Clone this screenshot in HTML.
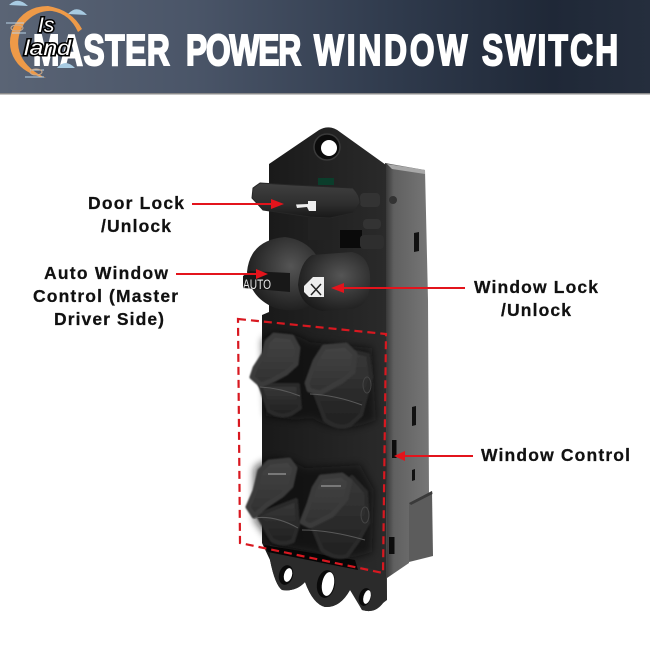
<!DOCTYPE html>
<html><head><meta charset="utf-8"><style>
html,body{margin:0;padding:0;background:#fff;width:650px;height:650px;overflow:hidden}
svg{display:block}
text{font-family:"Liberation Sans",Arial,sans-serif}
.l{font-size:17.5px;font-weight:700;fill:#111;stroke:#111;stroke-width:.25}
.t{font-size:44px;font-weight:700;fill:#fff;stroke:#fff;stroke-width:2}
</style></head><body>
<svg width="650" height="650" viewBox="0 0 650 650" xmlns="http://www.w3.org/2000/svg">
<defs>
<linearGradient id="hd" x1="0" y1="0" x2="1" y2="0"><stop offset="0" stop-color="#5a6475"/><stop offset=".3" stop-color="#4a5568"/><stop offset=".6" stop-color="#303b4d"/><stop offset=".85" stop-color="#1f2837"/><stop offset="1" stop-color="#252e3d"/></linearGradient>
<linearGradient id="side" x1="0" y1="0" x2="1" y2="0"><stop offset="0" stop-color="#333"/><stop offset=".2" stop-color="#606060"/><stop offset="1" stop-color="#767676"/></linearGradient>
<linearGradient id="face" x1="0" y1="0" x2="1" y2="0"><stop offset="0" stop-color="#191919"/><stop offset="1" stop-color="#2a2a2a"/></linearGradient>
<linearGradient id="btn" x1="0" y1="0" x2="0" y2="1"><stop offset="0" stop-color="#404040"/><stop offset=".6" stop-color="#2e2e2e"/><stop offset="1" stop-color="#181818"/></linearGradient>
<radialGradient id="knob" cx=".6" cy=".4" r=".7"><stop offset="0" stop-color="#555"/><stop offset=".6" stop-color="#303030"/><stop offset="1" stop-color="#181818"/></radialGradient>
<linearGradient id="cap" x1="0" y1="0" x2="0" y2="1"><stop offset="0" stop-color="#444"/><stop offset="1" stop-color="#303030"/></linearGradient>
<linearGradient id="low" x1="0" y1="0" x2="0" y2="1"><stop offset="0" stop-color="#383838"/><stop offset="1" stop-color="#202020"/></linearGradient>
<filter id="b" x="-20%" y="-20%" width="140%" height="140%"><feGaussianBlur stdDeviation="4"/></filter>
<filter id="s" x="-5%" y="-5%" width="110%" height="110%"><feGaussianBlur stdDeviation=".7"/></filter>
</defs>

<rect width="650" height="93" fill="url(#hd)"/>
<rect y="93" width="650" height="1.5" fill="#8a8a8a"/>
<text class="t" transform="translate(33,65) scale(.72,1)" textLength="190" lengthAdjust="spacing">MASTER</text>
<text class="t" transform="translate(186,65) scale(.72,1)" textLength="160" lengthAdjust="spacing">POWER</text>
<text class="t" transform="translate(314,65) scale(.72,1)" textLength="213" lengthAdjust="spacing">WINDOW</text>
<text class="t" transform="translate(482,65) scale(.72,1)" textLength="189" lengthAdjust="spacing">SWITCH</text>

<!-- logo -->
<g>
<path d="M82 29 Q72 10 48 6 Q24 6 13 28 Q5 48 18 64 Q28 75 46 78 Q28 70 21 56 Q14 40 24 24 Q36 10 52 11 Q70 14 78 32Z" fill="#ee9a48"/>
<path d="M9 5 Q18 -4 28 6Z M68 14 Q77 4 87 15Z M57 68 Q65 58 75 68Z" fill="#a8cbe2"/>
<path d="M6 23H24M12 33H26M30 70H44M25 77H44" stroke="#b9d3e6" stroke-width="1" fill="none"/>
<ellipse cx="17" cy="28" rx="6" ry="3" fill="none" stroke="#c9a98c" stroke-width="1"/>
<ellipse cx="36" cy="72" rx="6" ry="3" fill="none" stroke="#c9a98c" stroke-width="1"/>
<text x="38" y="32" font-size="21" font-style="italic" fill="#fff" stroke="#000" stroke-width="3" paint-order="stroke">Is</text>
<text x="24" y="55" font-size="21" font-style="italic" fill="#fff" stroke="#000" stroke-width="3" paint-order="stroke" textLength="47" lengthAdjust="spacingAndGlyphs">land</text>
</g>

<!-- side of body -->
<path d="M385 163 L425 170 L428 300 L429 495 L409 505 L409 563 L387 578 Z" fill="url(#side)"/>
<path d="M387 164 L425 170 L425 174 L392 169Z" fill="#a8a8a8"/>
<path d="M409 503 L432 491 L433 556 L409 562Z" fill="#5c5c5c"/>
<path d="M409 503 L432 491 L432.500 494 L411 505Z" fill="#3a3a3a"/>
<path d="M412 407 L416 406 L416 425 L412 426Z M414 233 L419 232 L419 251 L414 252Z M412 470 L415 469 L415 480 L412 481Z" fill="#111"/>
<rect x="392" y="440" width="4.5" height="18" fill="#0c0c0c"/><rect x="389" y="537" width="5.5" height="17" fill="#0c0c0c"/>

<!-- front body -->
<path d="M269 164 L319 130 Q330 124 340 132 L386 165 L386 315 L387 600 L383 603 Q375 614 362 610 L354 595 L350 590 Q340 608 325 607 Q313 604 305 582 Q296 592 282 590 Q275 585 270 560 L262 543 L262 315 L269 312 Z" fill="url(#face)"/>
<path d="M270 545 L386 572 L386 600 L383 603 Q375 614 362 610 L350 590 Q340 608 325 607 Q313 604 305 582 Q296 592 282 590 Q275 585 270 560Z" fill="#2b2b2b"/>
<circle cx="327" cy="147" r="13" fill="#0b0b0b" stroke="#3a3a3a" stroke-width="1.5"/><circle cx="329" cy="148" r="8" fill="#fff"/>
<ellipse cx="286" cy="575" rx="7" ry="10" fill="#0a0a0a" transform="rotate(15 286 575)"/><ellipse cx="288" cy="575" rx="4" ry="7" fill="#fff" transform="rotate(15 288 575)"/>
<ellipse cx="326" cy="584" rx="9" ry="14" fill="#0a0a0a" transform="rotate(10 326 584)"/><ellipse cx="328" cy="584" rx="6" ry="12" fill="#fff" transform="rotate(10 328 584)"/>
<ellipse cx="365" cy="597" rx="6" ry="9" fill="#0a0a0a" transform="rotate(15 365 597)"/><ellipse cx="367" cy="597" rx="3.500" ry="7" fill="#fff" transform="rotate(15 367 597)"/>
<path d="M264 545 L355 560 L358 570 L268 552Z" fill="#070707"/>

<!-- small parts -->
<rect x="318" y="178" width="16" height="7" fill="#0b3d2b"/>
<path d="M308 218H332V240H308Z" fill="#222"/>
<path d="M340 230H362V248H340Z" fill="#0a0a0a"/>
<rect x="363" y="219" width="18" height="10" rx="4" fill="#333"/><rect x="360" y="235" width="24" height="14" rx="4" fill="#2e2e2e"/><rect x="360" y="193" width="20" height="14" rx="4" fill="#333"/>
<circle cx="393" cy="200" r="4" fill="#333"/>

<!-- door lock -->
<path d="M253 188 L260 183 L293 185 L353 188 Q360 195 360 203 L353 213 L330 218 L310 217 L263 210 L252 198Z" fill="url(#btn)" stroke="#262626" stroke-width="1" stroke-linejoin="round"/>
<path d="M296 204.500 L308 204 V201 H316 V211 H309 L307 207 L297 208Z" fill="#eee"/>

<!-- auto knob -->
<path d="M247 272 Q250 240 285 237 Q310 240 320 262 L320 300 Q300 315 275 308 Q250 298 247 272Z" fill="url(#knob)"/>
<path d="M243 276 L250 271 L290 273 L290 292 L243 288Z" fill="#181818"/>
<text x="243" y="289" font-size="13.500" fill="#e8e8e8" textLength="28" lengthAdjust="spacingAndGlyphs">AUTO</text>
<!-- lock knob -->
<path d="M298 285 Q300 262 312 255 L352 252 Q372 256 370 285 Q368 308 350 309 L322 311 Q300 306 298 285Z" fill="url(#knob)"/>
<path d="M304 286 L313 277 H324 V297 H309 L304 292Z" fill="#eee"/><path d="M311 284 L321 295 M321 284 L311 295" stroke="#222" stroke-width="1.5"/>

<!-- window buttons backing -->
<g fill="#080808" filter="url(#b)" opacity=".65">
<path d="M262 340 Q280 325 310 342 L372 348 L376 420 Q340 436 312 418 L295 420 L266 416Z"/>
<path d="M254 468 Q275 450 305 468 L360 465 L374 490 L372 552 Q340 564 315 552 L272 544 L254 520Z"/>
</g>
<!-- lower parts -->
<g fill="url(#low)" stroke="#2a2a2a" stroke-width="4" stroke-linejoin="round" filter="url(#s)">
<path d="M260 385 L269 411 Q280 418 291 414 L300 408 L298 385 Z"/>
<path d="M313 388 L325 420 Q338 430 350 425 L361 415 L371 377 L368 355 L355 352 Z"/>
<path d="M258 515 L272 540 Q282 546 293 541 L298 525 L296 500 Z"/>
<path d="M312 525 L322 550 Q335 560 347 556 L358 541 L368 523 L366 492 L352 477 Z"/>
</g>
<!-- caps -->
<g fill="url(#cap)" stroke="#3a3a3a" stroke-width="5" stroke-linejoin="round" filter="url(#s)">
<path d="M267 342 L274 335 L292 337 L298 348 L296 364 L286 373 L273 380 L261 385 L252 377 L255 368 L264 354Z"/>
<path d="M315 361 L324 347 L346 345 L355 354 L353 372 L342 381 L320 393 L309 390 L307 383Z"/>
<path d="M260 471 L269 462 L289 460 L295 468 L291 486 L282 495 L267 505 L254 516 L248 507 L255 491Z"/>
<path d="M314 488 L321 477 L342 475 L350 481 L346 499 L332 515 L310 526 L302 522 L309 504Z"/>
</g>
<path d="M268 474H286M321 486H341" stroke="#999" stroke-width="1.2"/>
<path d="M260 387 Q280 388 300 396M310 394 Q335 395 362 405M254 518 Q275 515 298 528M302 530 Q330 530 365 540" stroke="#5a5a5a" stroke-width="1" fill="none"/>
<ellipse cx="367" cy="385" rx="4" ry="8" fill="none" stroke="#444"/><ellipse cx="365" cy="515" rx="4" ry="8" fill="none" stroke="#444"/>

<!-- red connectors -->
<g stroke="#e3141c" stroke-width="2" fill="#e3141c">
<path d="M192 204H274"/><path d="M284 204 L271 199 V209Z" stroke="none"/>
<path d="M176 274H258"/><path d="M268 274 L256 269 V279Z" stroke="none"/>
<path d="M465 288H342"/><path d="M331 288 L344 283 V293Z" stroke="none"/>
<path d="M473 456H402"/><path d="M394 456 L405 451 V461Z" stroke="none"/>
</g>
<path d="M238 319 L386 334 L383 573 L240 543 Z" fill="none" stroke="#d81820" stroke-width="2.2" stroke-dasharray="8 5"/>

<!-- labels -->
<text class="l" x="88" y="209" textLength="96" lengthAdjust="spacing">Door Lock</text>
<text class="l" x="101" y="232" textLength="70" lengthAdjust="spacing">/Unlock</text>
<text class="l" x="44" y="279" textLength="124" lengthAdjust="spacing">Auto Window</text>
<text class="l" x="33" y="302" textLength="145" lengthAdjust="spacing">Control (Master</text>
<text class="l" x="54" y="325" textLength="110" lengthAdjust="spacing">Driver Side)</text>
<text class="l" x="474" y="293" textLength="124" lengthAdjust="spacing">Window Lock</text>
<text class="l" x="501" y="316" textLength="70" lengthAdjust="spacing">/Unlock</text>
<text class="l" x="481" y="461" textLength="149" lengthAdjust="spacing">Window Control</text>
</svg>
</body></html>
